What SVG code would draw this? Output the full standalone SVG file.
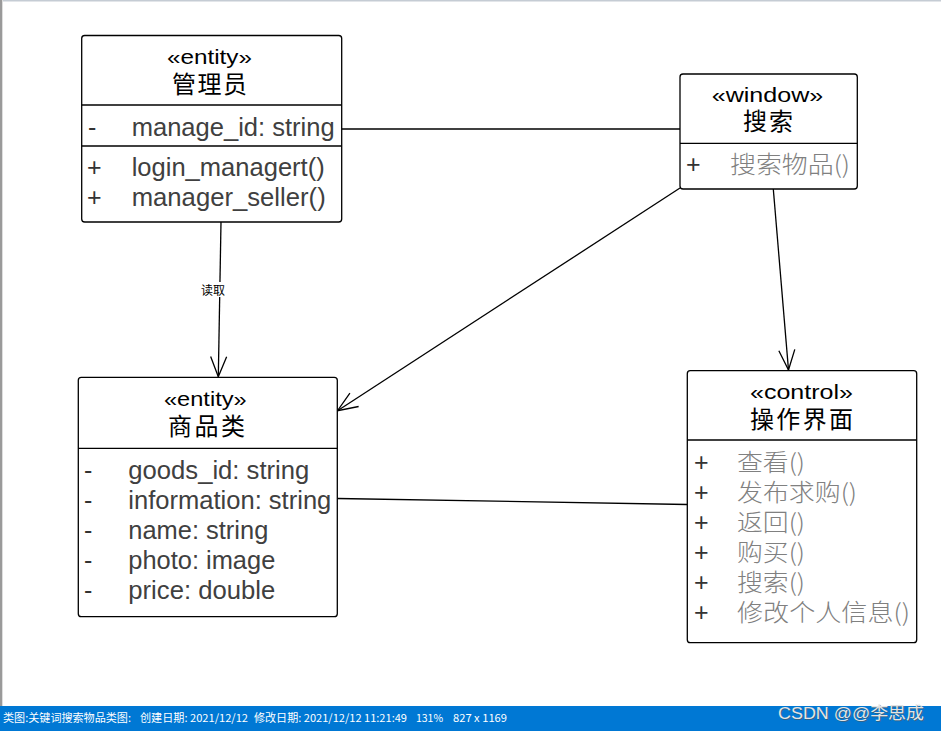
<svg xmlns="http://www.w3.org/2000/svg" width="941" height="731" viewBox="0 0 941 731">
<defs>
<style>
.box{fill:#fff;stroke:#000;stroke-width:1.3}
.dv{stroke:#000;stroke-width:1.3}
.st{font-family:"Liberation Sans","Noto Sans CJK SC",sans-serif;font-size:21px;fill:#000;text-anchor:middle}
.tt{font-family:"Noto Sans CJK SC",sans-serif;font-size:24px;fill:#000;text-anchor:middle}
.vis{font-family:"Liberation Sans",sans-serif;font-size:25px;fill:#333}
.mem{font-family:"Liberation Sans","Noto Sans CJK SC",sans-serif;font-size:25px;fill:#404040}
.cm{font-family:"Noto Sans CJK SC",sans-serif;font-size:24px;font-weight:300;fill:#808080}
.ln{fill:none;stroke:#000;stroke-width:1.3}
.lbl{font-family:"Noto Sans CJK SC",sans-serif;font-size:12px;fill:#000;text-anchor:middle}
.bar{font-family:"Noto Sans CJK SC",sans-serif;font-size:11px;fill:#fff}
</style>
<marker id="open" viewBox="-22 -11 24 22" refX="0" refY="0" markerWidth="24" markerHeight="22" orient="auto" markerUnits="userSpaceOnUse">
<path d="M-20,-8 L0,0 L-20,8" fill="none" stroke="#000" stroke-width="1.3"/>
</marker>
</defs>
<rect x="0" y="0" width="941" height="731" fill="#fff"/>
<rect x="0" y="0" width="941" height="1.5" fill="#c5ccd4"/>
<rect x="0" y="0" width="2" height="706" fill="#9a9a9a"/>
<rect x="2" y="0" width="1" height="706" fill="#dedede"/>

<g id="connectors">
<line class="ln" x1="341.7" y1="129" x2="680" y2="129"/>
<line class="ln" x1="221" y1="222" x2="218.3" y2="376.7" marker-end="url(#open)"/>
<rect x="199" y="282" width="28" height="15" fill="#fff"/>
<text class="lbl" x="213" y="294.5">读取</text>
<line class="ln" x1="680" y1="188" x2="337.5" y2="410.7" marker-end="url(#open)"/>
<line class="ln" x1="773.3" y1="189" x2="788.5" y2="370" marker-end="url(#open)"/>
<line class="ln" x1="337.5" y1="498.5" x2="687.3" y2="504.5"/>
</g>

<g id="node-manager">
<rect class="box" x="81.7" y="35.5" width="260" height="186.5" rx="3"/>
<line class="dv" x1="81.7" y1="105" x2="341.7" y2="105"/>
<line class="dv" x1="81.7" y1="146" x2="341.7" y2="146"/>
<text class="st" x="209.5" y="63.5" textLength="85" lengthAdjust="spacingAndGlyphs">«entity»</text>
<text class="tt" x="209.5" y="93" textLength="75">管理员</text>
<text class="vis" x="88" y="136">-</text>
<text class="mem" x="131.7" y="136" textLength="203" lengthAdjust="spacingAndGlyphs">manage_id: string</text>
<text class="vis" x="87" y="176">+</text>
<text class="mem" x="131.7" y="176" textLength="193" lengthAdjust="spacingAndGlyphs">login_managert()</text>
<text class="vis" x="87" y="206">+</text>
<text class="mem" x="131.7" y="206" textLength="194" lengthAdjust="spacingAndGlyphs">manager_seller()</text>
</g>

<g id="node-search">
<rect class="box" x="680" y="74" width="177.3" height="115" rx="3"/>
<line class="dv" x1="680" y1="143.3" x2="857.3" y2="143.3"/>
<text class="st" x="767.5" y="101.5" textLength="111.6" lengthAdjust="spacingAndGlyphs">«window»</text>
<text class="tt" x="768" y="130" textLength="50">搜索</text>
<text class="vis" x="686" y="173">+</text>
<text class="cm" x="730" y="173" textLength="120" lengthAdjust="spacingAndGlyphs">搜索物品()</text>
</g>

<g id="node-goods">
<rect class="box" x="78.3" y="377.3" width="259" height="239.4" rx="3"/>
<line class="dv" x1="78.3" y1="448.3" x2="337.3" y2="448.3"/>
<text class="st" x="205.3" y="406" textLength="82.7" lengthAdjust="spacingAndGlyphs">«entity»</text>
<text class="tt" x="206.5" y="435" textLength="77">商品类</text>
<text class="vis" x="84" y="479">-</text>
<text class="mem" x="128.3" y="479" textLength="181" lengthAdjust="spacingAndGlyphs">goods_id: string</text>
<text class="vis" x="84" y="509">-</text>
<text class="mem" x="128.3" y="509" textLength="203" lengthAdjust="spacingAndGlyphs">information: string</text>
<text class="vis" x="84" y="539">-</text>
<text class="mem" x="128.3" y="539" textLength="140" lengthAdjust="spacingAndGlyphs">name: string</text>
<text class="vis" x="84" y="569">-</text>
<text class="mem" x="128.3" y="569" textLength="147" lengthAdjust="spacingAndGlyphs">photo: image</text>
<text class="vis" x="84" y="599">-</text>
<text class="mem" x="128.3" y="599" textLength="147" lengthAdjust="spacingAndGlyphs">price: double</text>
</g>

<g id="node-ui">
<rect class="box" x="687.3" y="370.7" width="229.4" height="272" rx="3"/>
<line class="dv" x1="687.3" y1="440" x2="916.7" y2="440"/>
<text class="st" x="801.5" y="398.5" textLength="103" lengthAdjust="spacingAndGlyphs">«control»</text>
<text class="tt" x="801.5" y="428" textLength="103">操作界面</text>
<text class="vis" x="694" y="471">+</text>
<text class="cm" x="737" y="471" textLength="68" lengthAdjust="spacingAndGlyphs">查看()</text>
<text class="vis" x="694" y="501">+</text>
<text class="cm" x="737" y="501" textLength="120" lengthAdjust="spacingAndGlyphs">发布求购()</text>
<text class="vis" x="694" y="531">+</text>
<text class="cm" x="737" y="531" textLength="68" lengthAdjust="spacingAndGlyphs">返回()</text>
<text class="vis" x="694" y="561">+</text>
<text class="cm" x="737" y="561" textLength="68" lengthAdjust="spacingAndGlyphs">购买()</text>
<text class="vis" x="694" y="591">+</text>
<text class="cm" x="737" y="591" textLength="68" lengthAdjust="spacingAndGlyphs">搜索()</text>
<text class="vis" x="694" y="621">+</text>
<text class="cm" x="737" y="621" textLength="173" lengthAdjust="spacingAndGlyphs">修改个人信息()</text>
</g>

<g id="statusbar">
<rect x="0" y="706" width="941" height="25" fill="#0078d4"/>
<text class="bar" x="3" y="722" textLength="128" lengthAdjust="spacingAndGlyphs">类图:关键词搜索物品类图:</text>
<text class="bar" x="140" y="722" textLength="108" lengthAdjust="spacingAndGlyphs">创建日期: 2021/12/12</text>
<text class="bar" x="254" y="722" textLength="153" lengthAdjust="spacingAndGlyphs">修改日期: 2021/12/12 11:21:49</text>
<text class="bar" x="416" y="722" textLength="27" lengthAdjust="spacingAndGlyphs">131%</text>
<text class="bar" x="453" y="722" textLength="54" lengthAdjust="spacingAndGlyphs">827 x 1169</text>
<text x="779" y="720" font-family="Liberation Sans,'Noto Sans CJK SC',sans-serif" font-size="17" fill="#555" opacity="0.6" textLength="146" lengthAdjust="spacingAndGlyphs">CSDN @@李思成</text>
<text x="778" y="719" font-family="Liberation Sans,'Noto Sans CJK SC',sans-serif" font-size="17" fill="#e4e4e4" textLength="146" lengthAdjust="spacingAndGlyphs">CSDN @@李思成</text>
</g>
</svg>
